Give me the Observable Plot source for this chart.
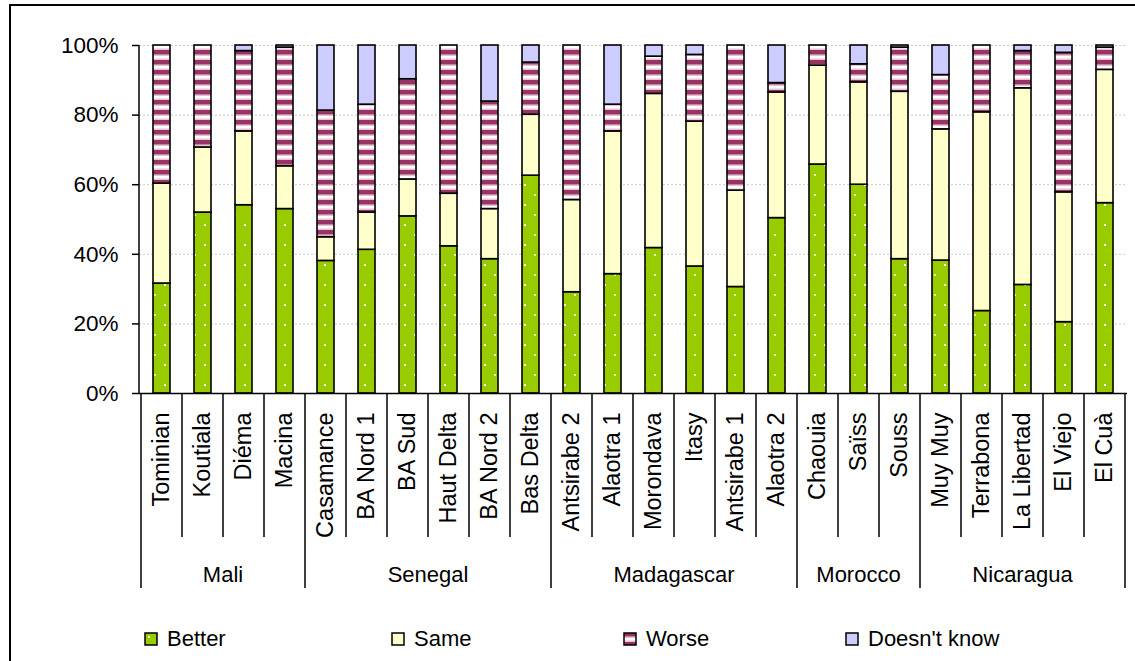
<!DOCTYPE html>
<html>
<head>
<meta charset="utf-8">
<script src="https://cdn.jsdelivr.net/npm/d3@7"></script>
<script src="https://cdn.jsdelivr.net/npm/@observablehq/plot@0.6"></script>
<style>
  html, body { margin: 0; padding: 0; background: #fff; overflow: hidden; }
  #wrap { position: relative; width: 1135px; height: 661px; overflow: hidden; font-family: "Liberation Sans", Arial, sans-serif; }
  #frame { position: absolute; left: 9px; top: 4px; width: 2000px; height: 2000px; border-left: 2px solid #000; border-top: 2px solid #000; pointer-events: none; }
  #chart { position: absolute; left: 0; top: 0; }
  .leg { position: absolute; top: 626px; height: 26px; display: flex; align-items: center; font-size: 22px; color: #000; white-space: nowrap; }
  .leg svg { margin-right: 9px; }
</style>
</head>
<body>
<svg width="0" height="0" style="position:absolute">
  <defs>
    <pattern id="patBetter" patternUnits="userSpaceOnUse" width="20" height="20">
      <rect width="20" height="20" fill="#99CC00"/>
      <rect x="4" y="4" width="2" height="2" fill="#ffffff"/>
      <rect x="14" y="14" width="2" height="2" fill="#e6f2b8"/>
    </pattern>
    <pattern id="patWorse" patternUnits="userSpaceOnUse" width="10" height="10">
      <rect width="10" height="10" fill="#ffffff"/>
      <rect y="0" width="10" height="4" fill="#993366"/>
      <rect y="4" width="10" height="1.5" fill="#c4869f"/>
      <rect y="8.5" width="10" height="1.5" fill="#e6c3d3"/>
    </pattern>
  </defs>
</svg>
<div id="wrap">
  <div id="chart"></div>
  <div id="frame"></div>
  <div id="legend"></div>
</div>
<script>
// ---- data ----
const categories = ["Tominian","Koutiala","Diéma","Macina","Casamance","BA Nord 1","BA Sud","Haut Delta","BA Nord 2","Bas Delta","Antsirabe 2","Alaotra 1","Morondava","Itasy","Antsirabe 1","Alaotra 2","Chaouia","Saïss","Souss","Muy Muy","Terrabona","La Libertad","El Viejo","El Cuà"];
const countries = ["Mali","Senegal","Madagascar","Morocco","Nicaragua"];
const countrySizes = [4, 6, 6, 3, 5];
const series = ["Better","Same","Worse","Doesn't know"];
const better = [31.6,52.0,54.1,53.0,38.1,41.3,50.9,42.3,38.6,62.6,29.1,34.3,41.8,36.5,30.6,50.4,65.8,60.0,38.6,38.2,23.7,31.2,20.5,54.7];
const same   = [28.7,18.7,21.2,12.3,6.8,10.7,10.6,15.1,14.4,17.5,26.5,41.0,44.3,41.6,27.7,36.1,28.4,29.4,48.1,37.7,57.1,56.5,37.3,38.3];
const worse  = [39.7,29.3,23.1,34.1,36.4,31.0,28.8,42.6,30.9,15.0,44.4,7.7,10.7,19.2,41.7,2.7,5.8,5.2,12.7,15.6,19.2,10.7,40.1,6.4];
const dontKnow = [0,0,1.6,0.6,18.7,17.0,9.7,0,16.1,4.9,0,17.0,3.2,2.7,0,10.8,0,5.4,0.6,8.5,0,1.6,2.1,0.6];
const yTicks = [0,20,40,60,80,100];

const seriesValues = [better, same, worse, dontKnow];
const seriesFill = {"Better": "url(#patBetter)", "Same": "#FFFFCC", "Worse": "url(#patWorse)", "Doesn't know": "#CCCCFF"};

const rows = [];
categories.forEach((c, i) => {
  series.forEach((s, j) => rows.push({cat: c, resp: s, value: seriesValues[j][i]}));
});

const FONT = "Liberation Sans, Arial, sans-serif";

function hierarchyAxis(index, scales, values, dims) {
  const x = scales.x;
  const step = x(categories[1]) - x(categories[0]);
  const half = x.bandwidth ? x.bandwidth() / 2 : 0;
  const y0 = dims.height - dims.marginBottom;
  const edges = categories.map(c => x(c) + half - step / 2);
  edges.push(x(categories[categories.length - 1]) + half + step / 2);
  const bounds = [0];
  countrySizes.forEach(n => bounds.push(bounds[bounds.length - 1] + n));
  const g = d3.create("svg:g");
  g.append("line")
    .attr("x1", dims.marginLeft).attr("x2", dims.marginLeft)
    .attr("y1", dims.marginTop).attr("y2", y0)
    .attr("stroke", "#000").attr("stroke-width", 1.5);
  edges.forEach((e, i) => {
    const isGroup = bounds.includes(i);
    g.append("line")
      .attr("x1", e).attr("x2", e)
      .attr("y1", y0).attr("y2", y0 + (isGroup ? 195 : 144))
      .attr("stroke", "#000").attr("stroke-width", 1.5);
  });
  countries.forEach((name, k) => {
    const cx = (edges[bounds[k]] + edges[bounds[k + 1]]) / 2;
    g.append("text")
      .attr("x", cx).attr("y", y0 + 189)
      .attr("text-anchor", "middle")
      .attr("font-family", FONT).attr("font-size", 22)
      .attr("fill", "#000")
      .text(name);
  });
  return g.node();
}

const chart = Plot.plot({
  width: 1135,
  height: 600,
  marginTop: 45,
  marginLeft: 139,
  marginRight: 8,
  marginBottom: 207,
  style: {background: "transparent", fontFamily: FONT, fontSize: "22px", overflow: "visible", color: "#000"},
  x: {domain: categories, paddingInner: 0.585, paddingOuter: 0.2925, label: null, axis: null},
  y: {domain: [0, 100], label: null, axis: null},
  color: {type: "identity"},
  marks: [
    Plot.ruleY(yTicks.filter(t => t > 0), {stroke: "#c8c8c8", strokeWidth: 1, strokeDasharray: "2,2"}),
    Plot.barY(rows, Plot.stackY({x: "cat", y: "value", fill: d => seriesFill[d.resp], stroke: "#000", strokeWidth: 1.6})),
    Plot.ruleY([0], {stroke: "#000", strokeWidth: 1.5}),
    Plot.axisY({ticks: yTicks, tickSize: 7, tickPadding: 14, tickFormat: d => d + "%", fontSize: 22.5, strokeWidth: 1.5, label: null}),
    Plot.axisX({tickSize: 0, tickPadding: 19, rotate: -90, textAnchor: "end", dx: -10, fontSize: 23.5, label: null}),
    hierarchyAxis
  ]
});
document.getElementById("chart").appendChild(chart);

// legend
const legendLeft = [144, 391, 623, 845];
const legend = document.getElementById("legend");
series.forEach((s, i) => {
  const item = document.createElement("div");
  item.className = "leg";
  item.style.left = legendLeft[i] + "px";
  item.innerHTML = `<svg width="14" height="14"><rect x="1" y="1" width="12" height="12" fill="${seriesFill[s]}" stroke="#000" stroke-width="1.5"/></svg><span></span>`;
  item.querySelector("span").textContent = s;
  legend.appendChild(item);
});
</script>
</body>
</html>
